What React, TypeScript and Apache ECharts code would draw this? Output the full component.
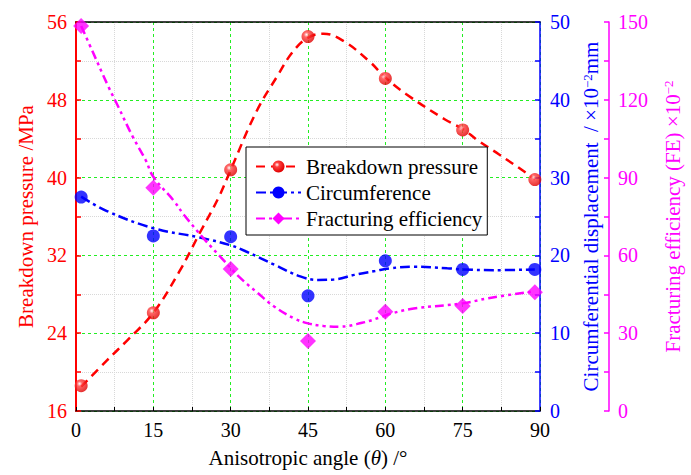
import React, { useEffect, useRef } from 'react';
import * as echarts from 'echarts';

// Measured points
const xMarks = [1, 15, 30, 45, 60, 75, 89];
const pressure = [18.6, 26.1, 40.8, 54.5, 50.2, 44.9, 39.8];
const circumference = [27.5, 22.5, 22.4, 14.8, 19.3, 18.2, 18.2];
const efficiency = [148.5, 86.1, 54.8, 27.0, 38.3, 40.5, 45.8];

// Fitted curves
const pressureCurveX = [1, 6, 10, 15, 20, 24, 27.7, 30, 35, 39, 42, 45, 48, 52, 57, 60, 64, 71.5, 75, 78, 82, 87, 89];
const pressureCurveY = [18.5, 21.2, 23.3, 26.1, 30.3, 34.3, 38.0, 40.8, 46.8, 50.4, 52.9, 54.4, 54.8, 54.0, 51.9, 50.3, 48.6, 46.0, 45.0, 43.8, 42.4, 40.6, 39.8];

const circCurveX = [1, 6, 15, 24, 30, 33, 38.5, 43.5, 47, 50, 54, 58, 61, 65.5, 72, 75, 81, 89];
const circCurveY = [27.55, 25.7, 23.5, 22.3, 21.3, 20.5, 18.8, 17.3, 16.85, 16.9, 17.5, 18.0, 18.35, 18.55, 18.35, 18.2, 18.1, 18.2];

const effCurveX = [1, 2.5, 6.3, 8.2, 11, 13.5, 15, 19, 21, 25, 28.6, 31.6, 35.3, 38.5, 42.3, 45, 48, 51, 55.5, 59, 61, 65.5, 75, 80, 89];
const effCurveY = [148.5, 141.8, 125, 117.3, 105.8, 96.8, 90.3, 81, 75.5, 66, 58.2, 51.8, 45.4, 40.2, 35.7, 33.8, 32.8, 32.5, 34, 36.1, 37.5, 39.5, 41.5, 43.5, 46.2];

const xTicks = [0, 15, 30, 45, 60, 75, 90];
const legendNames = ['Breakdown pressure', 'Circumference', 'Fracturing efficiency'];

const FONT = 'Liberation Serif';
const RED = '#ff0000';
const BLUE = '#0000ff';
const MAG = '#ff00ff';

const zip = (xs: number[], ys: number[]) => xs.map((x, i) => [x, ys[i]]);

const txt = (color: string, size = 20) => ({ fontFamily: FONT, fontSize: size, color });
const nameStyle = (color: string) => ({
  ...txt(color, 21),
  rich: {
    t: txt(color, 21),
    i: { ...txt(color, 21), fontStyle: 'italic' },
    sup: { ...txt(color, 13), verticalAlign: 'top', lineHeight: 21 },
  },
});

export default function App() {
  const ref = useRef<HTMLDivElement>(null);
  useEffect(() => {
    const chart = echarts.init(ref.current!, null, { renderer: 'svg' });
    const sphere = {
      type: 'radial', x: 0.38, y: 0.35, r: 0.65,
      colorStops: [
        { offset: 0, color: '#ffffff' },
        { offset: 0.3, color: '#ff4040' },
        { offset: 1, color: '#e00000' },
      ],
    };
    const minorSplit = { show: true, lineStyle: { color: '#d8d8d8', type: 'dotted', width: 1 } };
    const majorSplit = { show: true, lineStyle: { color: '#22ee22', type: [3, 3], width: 1 } };
    chart.setOption({
      animation: false,
      backgroundColor: '#ffffff',
      textStyle: { fontFamily: FONT },
      grid: { left: 76, right: 138, top: 22, bottom: 64, containLabel: false },
      legend: {
        left: 246, top: 147,
        orient: 'vertical',
        backgroundColor: '#ffffff',
        borderColor: '#000000', borderWidth: 1,
        padding: [9, 5, 6, 9],
        itemWidth: 45, itemHeight: 15, itemGap: 5,
        textStyle: txt('#000', 21),
        data: legendNames,
      },
      xAxis: [
        {
          type: 'value', min: 0, max: 90, interval: 15,
          position: 'bottom',
          name: '{t|Anisotropic angle (}{i|θ}{t|) /°}',
          nameLocation: 'middle', nameGap: 36,
          nameTextStyle: nameStyle('#000'),
          axisLine: { onZero: false, lineStyle: { color: '#000', width: 1.5 } },
          axisTick: { inside: true, length: 4, lineStyle: { color: '#000' } },
          minorTick: { show: true, splitNumber: 2, length: 4, lineStyle: { color: '#000' } },
          axisLabel: {
            ...txt('#000'), margin: 9,
            formatter: (v: number) => (xTicks.includes(v) ? String(v) : ''),
          },
          splitLine: majorSplit,
          minorSplitLine: minorSplit,
        },
        {
          type: 'value', min: 0, max: 90, position: 'top',
          axisLine: { onZero: false, lineStyle: { color: '#000', width: 1.5 } },
          axisTick: { show: false }, axisLabel: { show: false }, splitLine: { show: false },
        },
      ],
      yAxis: [
        {
          type: 'value', min: 16, max: 56, interval: 8, position: 'left',
          name: 'Breakdown pressure /MPa',
          nameLocation: 'middle', nameGap: 38, nameRotate: 90,
          nameTextStyle: nameStyle(RED),
          axisLine: { onZero: false, lineStyle: { color: RED, width: 2 } },
          axisTick: { inside: true, length: 5, lineStyle: { color: RED, width: 1.5 } },
          minorTick: { show: true, splitNumber: 2, length: 5, lineStyle: { color: RED, width: 1.5 } },
          axisLabel: { ...txt(RED), margin: 9 },
          splitLine: majorSplit,
          minorSplitLine: minorSplit,
        },
        {
          type: 'value', min: 0, max: 50, interval: 10, position: 'right',
          name: '{t|Circumferential displacement  / ×10}{sup|−2}{t|mm}',
          nameLocation: 'middle', nameGap: 37, nameRotate: 90,
          nameTextStyle: nameStyle(BLUE),
          axisLine: { onZero: false, lineStyle: { color: BLUE, width: 1.5 } },
          axisTick: { inside: true, length: 5, lineStyle: { color: BLUE, width: 1.5 } },
          minorTick: { show: true, splitNumber: 2, length: 5, lineStyle: { color: BLUE, width: 1.5 } },
          axisLabel: { ...txt(BLUE), margin: 10 },
          splitLine: { show: false },
        },
        {
          type: 'value', min: 0, max: 150, interval: 30, position: 'right', offset: 69,
          name: '{t|Fracturing efficiency (FE) ×10}{sup|−2}',
          nameLocation: 'middle', nameGap: 53, nameRotate: 90,
          nameTextStyle: nameStyle(MAG),
          axisLine: { onZero: false, lineStyle: { color: MAG, width: 1.5 } },
          axisTick: { inside: true, length: 5, lineStyle: { color: MAG, width: 1.5 } },
          minorTick: { show: true, splitNumber: 2, length: 5, lineStyle: { color: MAG, width: 1.5 } },
          axisLabel: { ...txt(MAG), margin: 9 },
          splitLine: { show: false },
        },
      ],
      series: [
        {
          name: legendNames[0], type: 'line', xAxisIndex: 0, yAxisIndex: 0,
          data: zip(pressureCurveX, pressureCurveY), smooth: 0.4,
          symbol: 'circle', showSymbol: false, symbolSize: 13,
          itemStyle: { color: sphere },
          lineStyle: { color: RED, width: 2.5, type: [9, 6] },
          z: 2,
        },
        {
          name: legendNames[1], type: 'line', xAxisIndex: 0, yAxisIndex: 1,
          data: zip(circCurveX, circCurveY), smooth: 0.4,
          symbol: 'circle', showSymbol: false,
          itemStyle: { color: BLUE },
          lineStyle: { color: BLUE, width: 2.5, type: [10, 4, 3, 4] },
          z: 2,
        },
        {
          name: legendNames[2], type: 'line', xAxisIndex: 0, yAxisIndex: 2,
          data: zip(effCurveX, effCurveY), smooth: 0.4,
          symbol: 'diamond', showSymbol: false,
          itemStyle: { color: MAG },
          lineStyle: { color: MAG, width: 2.5, type: [9, 4, 3, 4, 3, 4] },
          z: 2,
        },
        {
          name: legendNames[0], type: 'scatter', xAxisIndex: 0, yAxisIndex: 0,
          data: zip(xMarks, pressure), symbol: 'circle', symbolSize: 13,
          itemStyle: { color: sphere }, z: 3,
        },
        {
          name: legendNames[1], type: 'scatter', xAxisIndex: 0, yAxisIndex: 1,
          data: zip(xMarks, circumference), symbol: 'circle', symbolSize: 13,
          itemStyle: { color: BLUE }, z: 3,
        },
        {
          name: legendNames[2], type: 'scatter', xAxisIndex: 0, yAxisIndex: 2,
          data: zip(xMarks, efficiency), symbol: 'diamond', symbolSize: 16,
          itemStyle: { color: MAG }, z: 3,
        },
      ],
    });
    return () => chart.dispose();
  }, []);
  return <div ref={ref} style={{ position: 'fixed', left: 0, top: 0, width: 691, height: 475 }} />;
}
